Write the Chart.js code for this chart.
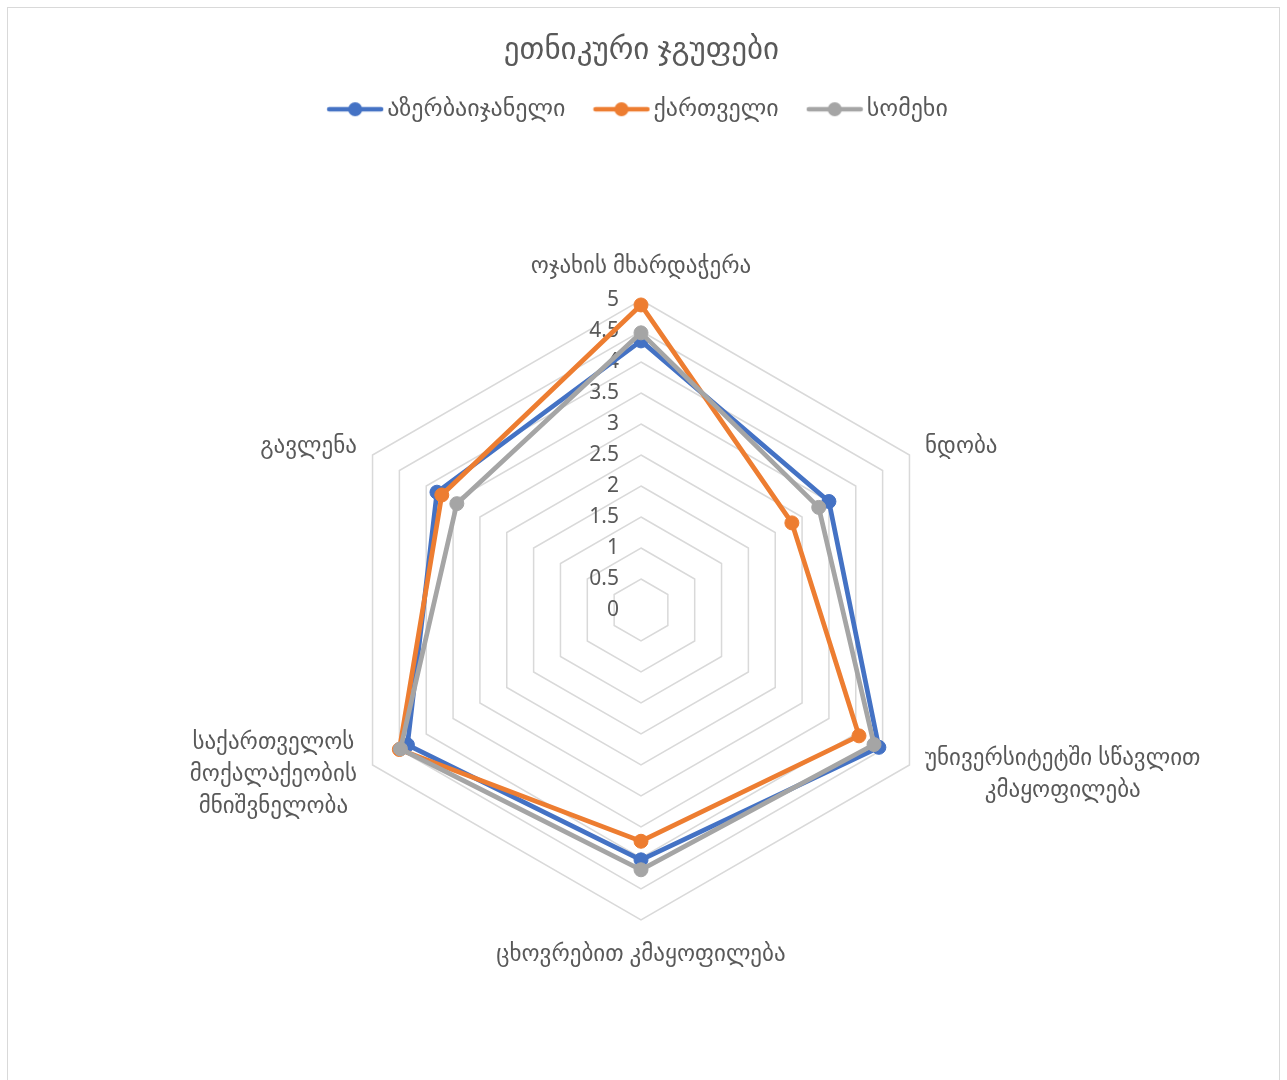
<!DOCTYPE html>
<html>
<head>
<meta charset="utf-8">
<script src="https://cdn.jsdelivr.net/npm/chart.js@4.4.1/dist/chart.umd.min.js"></script>
<style>
  body { margin: 0; background: #fff; }
  #wrap { position: relative; width: 1287px; height: 1080px; overflow: hidden; }
  #frame { position: absolute; left: 7px; top: 7px; width: 1271px; height: 1100px; border: 1px solid #d9d9d9; }
  #myChart { position: absolute; left: 0; top: 0; }
</style>
</head>
<body>
<div id="wrap">
  <div id="frame"></div>
  <canvas id="myChart" width="1287" height="1080"></canvas>
</div>
<script>
// categories (axes), clockwise from the top
const categories = [
    ['ოჯახის მხარდაჭერა'],
    ['ნდობა'],
    ['უნივერსიტეტში სწავლით', 'კმაყოფილება'],
    ['ცხოვრებით კმაყოფილება'],
    ['საქართველოს', 'მოქალაქეობის', 'მნიშვნელობა'],
    ['გავლენა']
];
const seriesNames = ['აზერბაიჯანელი', 'ქართველი', 'სომეხი'];
const azerbaijani = [4.34, 3.5, 4.43, 4.03, 4.35, 3.8];
const georgian = [4.92, 2.81, 4.06, 3.73, 4.5, 3.71];
const armenian = [4.47, 3.31, 4.34, 4.19, 4.48, 3.43];
const tickMin = 0;
const tickMax = 5;
const tickStep = 0.5;

const colors = ['#4472C4', '#ED7D31', '#A5A5A5'];
const textColor = '#595959';
const geoFont = '"Noto Sans", "DejaVu Sans", sans-serif';

// legend marker: a short line with a dot in the middle
function legendMarker(color) {
    const c = document.createElement('canvas');
    c.width = 58;
    c.height = 16;
    const g = c.getContext('2d');
    g.strokeStyle = color;
    g.lineWidth = 4.5;
    g.lineCap = 'round';
    g.beginPath();
    g.moveTo(3, 8);
    g.lineTo(55, 8);
    g.stroke();
    g.fillStyle = color;
    g.beginPath();
    g.arc(29, 8, 7, 0, Math.PI * 2);
    g.fill();
    return c;
}
const markers = colors.map(legendMarker);

// tick numbers on the left of the vertical axis, "0" included
const tickLabels = {
    id: 'tickLabels',
    beforeDatasetsDraw(chart) {
        const scale = chart.scales.r;
        const ctx = chart.ctx;
        ctx.save();
        ctx.font = '21px "Noto Sans", sans-serif';
        ctx.fillStyle = textColor;
        ctx.textAlign = 'right';
        ctx.textBaseline = 'middle';
        scale.ticks.forEach(function (t) {
            const y = scale.yCenter - scale.getDistanceFromCenterForValue(t.value);
            ctx.fillText(t.label, scale.xCenter - 22, y);
        });
        ctx.restore();
    }
};

// category names around the web, lines centred inside their block
const axisNames = {
    id: 'axisNames',
    afterDraw(chart) {
        const scale = chart.scales.r;
        const ctx = chart.ctx;
        const lineH = 32;
        ctx.save();
        ctx.font = '23px ' + geoFont;
        ctx.fillStyle = textColor;
        ctx.textBaseline = 'middle';
        ctx.textAlign = 'center';
        categories.forEach(function (lines, i) {
            const pos = scale.getPointPosition(i, scale.drawingArea + 18);
            const ang = scale.getIndexAngle(i) - Math.PI / 2;
            const cx = Math.cos(ang), sy = Math.sin(ang);
            const w = Math.max.apply(null, lines.map(function (l) { return ctx.measureText(l).width; }));
            const h = lines.length * lineH;
            let left = pos.x - w / 2;
            if (cx > 0.1) left = pos.x;
            else if (cx < -0.1) left = pos.x - w;
            let top = pos.y - h / 2;
            if (sy < -0.9) top = pos.y - h;
            else if (sy > 0.9) top = pos.y;
            lines.forEach(function (l, k) {
                ctx.fillText(l, left + w / 2, top + lineH * k + lineH / 2);
            });
        });
        ctx.restore();
    }
};

function series(label, data, idx, order) {
    return {
        label: label,
        data: data,
        borderColor: colors[idx],
        backgroundColor: colors[idx],
        pointBackgroundColor: colors[idx],
        pointBorderColor: colors[idx],
        borderWidth: 4.75,
        pointRadius: 7,
        pointBorderWidth: 1,
        fill: false,
        order: order
    };
}

const ctx = document.querySelector('#myChart').getContext('2d');
const myChart = new Chart(ctx, {
    type: 'radar',
    data: {
        labels: categories,
        datasets: [
            series(seriesNames[0], azerbaijani, 0, 3),
            series(seriesNames[1], georgian, 1, 2),
            series(seriesNames[2], armenian, 2, 1)
        ]
    },
    options: {
        responsive: false,
        animation: false,
        layout: {
            padding: { left: 0, right: 4, top: 0, bottom: -22 }
        },
        scales: {
            r: {
                min: tickMin,
                max: tickMax,
                ticks: {
                    display: false,
                    stepSize: tickStep,
                    callback: function (v) { return String(v); }
                },
                pointLabels: { display: false },
                angleLines: { display: false },
                grid: { color: '#D9D9D9', lineWidth: 1.5 },
                afterFit: function (scale) {
                    scale.drawingArea = 310;
                    scale.yCenter += 5;
                }
            }
        },
        plugins: {
            title: {
                display: true,
                text: 'ეთნიკური ჯგუფები',
                color: textColor,
                font: { size: 31, weight: 'normal', family: geoFont },
                padding: { top: 32, bottom: -8 }
            },
            legend: {
                position: 'top',
                labels: {
                    usePointStyle: true,
                    pointStyleWidth: 40,
                    padding: 36,
                    color: textColor,
                    font: { size: 24, family: geoFont },
                    generateLabels: function (chart) {
                        return chart.data.datasets.map(function (ds, i) {
                            return {
                                text: ds.label,
                                pointStyle: markers[i],
                                fillStyle: colors[i],
                                strokeStyle: colors[i],
                                lineWidth: 0,
                                fontColor: textColor,
                                datasetIndex: i,
                                hidden: false
                            };
                        });
                    }
                }
            },
            tooltip: { enabled: false }
        }
    },
    plugins: [tickLabels, axisNames]
});
</script>
</body>
</html>
